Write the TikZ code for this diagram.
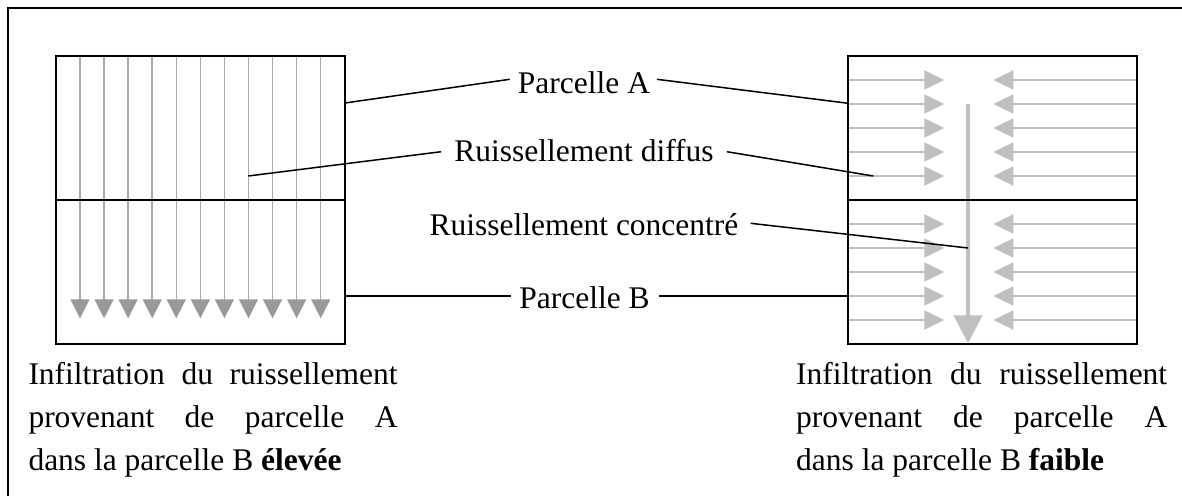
\documentclass[tikz,border=0pt]{standalone}
\usepackage{fontspec}
\setmainfont{Liberation Serif}
\usetikzlibrary{arrows.meta,calc}
\definecolor{darkgr}{HTML}{999999}
\definecolor{midgr}{HTML}{A8A8A8}
\definecolor{lightgr}{HTML}{C0C0C0}
\tikzset{
  frame/.style={black, line width=2pt},
  boxline/.style={black, line width=2pt},
  lead/.style={black, line width=1.5pt},
  darr/.style={midgr, line width=1.5pt, -{Triangle[width=19pt,length=19pt,fill=darkgr,color=darkgr]}},
  larr/.style={lightgr, line width=1.5pt, -{Triangle[width=19pt,length=20pt]}},
  bigarr/.style={lightgr, line width=4.5pt, -{Triangle[width=28pt,length=28pt]}},
  lab/.style={inner sep=0pt, anchor=base, font=\fontsize{31.5}{36}\selectfont},
  btxt/.style={inner sep=0pt, anchor=base west, font=\fontsize{31.5}{36}\selectfont}
}
\begin{document}
\begin{tikzpicture}[x=1pt,y=-1pt]
\useasboundingbox (0,0) rectangle (1182,495);
\fill[white] (0,0) rectangle (1182,495);
% outer frame
\draw[frame] (8,497) -- (8,8) -- (1184,8);

% left box arrows
\foreach \i in {0,...,10}
  \draw[darr] ({80+24.07*\i},56) -- ({80+24.07*\i},318.3);

% right box arrows
\foreach \y in {80,104,128,152,176,224,248,272,296,320} {
  \draw[larr] (848.3,\y) -- (944.3,\y);
  \draw[larr] (1136.7,\y) -- (993.3,\y);
}
\draw[bigarr] (968,104) -- (968,343.3);

% boxes
\draw[boxline] (56,55.7) rectangle (345,344);
\draw[boxline] (56,200) -- (345,200);
\draw[boxline] (848.3,55.7) rectangle (1136.7,344);
\draw[boxline] (848.3,200) -- (1136.7,200);

% leader end points
\coordinate (LA) at (345,103);
\coordinate (RA) at (848.3,103.3);
\coordinate (LD) at (248.3,176);
\coordinate (RD) at (873.3,176);
\coordinate (RC) at (968,248);
\coordinate (LB) at (345,296);
\coordinate (RB) at (848.3,296);

% labels
\node[lab] (pa) at (584,93.3) {Parcelle A};
\node[lab] (rd) at (584,161.7) {Ruissellement diffus};
\node[lab] (rc) at (584,235) {Ruissellement concentré};
\node[lab] (pb) at (584.5,308) {Parcelle B};

\draw[lead] (LA) -- ($(pa.base west)+(-8,-14)$);
\draw[lead] ($(pa.base east)+(6.7,-14)$) -- (RA);
\draw[lead] (LD) -- ($(rd.base west)+(-13,-10)$);
\draw[lead] ($(rd.base east)+(13,-10)$) -- (RD);
\draw[lead] ($(rc.base east)+(12,-11.7)$) -- (RC);
\draw[lead] (LB) -- ($(pb.base west)+(-8.3,-12)$);
\draw[lead] ($(pb.base east)+(9.3,-12)$) -- (RB);

% bottom texts
\node[btxt] (bl1) at (28.3,384.3) {\makebox[369pt][s]{Infiltration du ruissellement}};
\node[btxt] (bl2) at (28.3,427.3) {\makebox[369pt][s]{provenant de parcelle A}};
\node[btxt] (bl3) at (28.3,470.7) {dans la parcelle B \textbf{élevée}};
\node[btxt] (br1) at (796,384.3) {\makebox[371pt][s]{Infiltration du ruissellement}};
\node[btxt] (br2) at (796,427.3) {\makebox[371pt][s]{provenant de parcelle A}};
\node[btxt] (br3) at (796,470.7) {dans la parcelle B \textbf{faible}};
\end{tikzpicture}
\end{document}
